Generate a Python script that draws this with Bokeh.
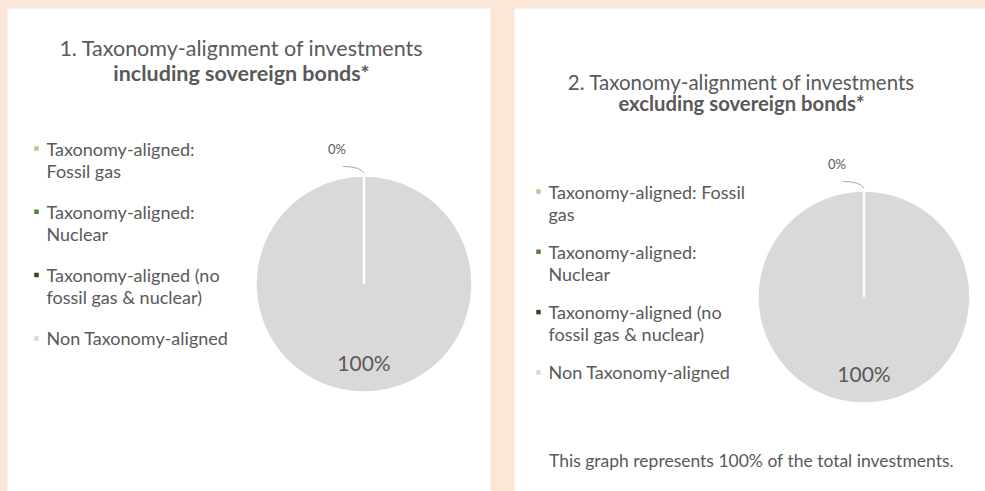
import math
from bokeh.plotting import figure
from bokeh.models import Range1d, GlobalInlineStyleSheet
from bokeh.core.properties import value
from bokeh.embed import file_html
from bokeh.resources import INLINE

# ---------------- data ----------------
categories = [
    "Taxonomy-aligned: Fossil gas",
    "Taxonomy-aligned: Nuclear",
    "Taxonomy-aligned (no fossil gas & nuclear)",
    "Non Taxonomy-aligned",
]
colors = ["#a9d18e", "#548235", "#2f4a1e", "#d9d9d9"]
values_incl = [0, 0, 0, 100]
values_excl = [0, 0, 0, 100]
legend_lines_1 = [
    ["Taxonomy-aligned:", "Fossil gas"],
    ["Taxonomy-aligned:", "Nuclear"],
    ["Taxonomy-aligned (no", "fossil gas & nuclear)"],
    ["Non Taxonomy-aligned"],
]
legend_lines_2 = [
    ["Taxonomy-aligned: Fossil", "gas"],
    ["Taxonomy-aligned:", "Nuclear"],
    ["Taxonomy-aligned (no", "fossil gas & nuclear)"],
    ["Non Taxonomy-aligned"],
]
title_1 = ["1. Taxonomy-alignment of investments", "including sovereign bonds*"]
title_2 = ["2. Taxonomy-alignment of investments", "excluding sovereign bonds*"]
footer = "This graph represents 100% of the total investments."

# ---------------- styling ----------------
FONT = "Lato"
TXT = "#595959"
PEACH = "#fae7d7"
W, H = 985, 491  # data y = H - page y

p = figure(width=W, height=H, output_backend="svg", toolbar_location=None,
           x_range=Range1d(0, W), y_range=Range1d(0, H),
           min_border=0, border_fill_color=PEACH, background_fill_color=PEACH,
           outline_line_color=None)
p.axis.visible = False
p.grid.visible = False
p.stylesheets = [GlobalInlineStyleSheet(css="html, body { background-color: #fae7d7; }")]

# panels
p.quad(left=[7, 514], right=[490, 985], bottom=[0, 0], top=[H - 8, H - 8],
       fill_color="white", line_color=None)


def Y(py):
    return H - py


def panel(vals, cx, cy, r, title, tcx, ty, tsizes, tgap, leg, lx, ly0, lstep, lsize):
    # title
    p.text(x=[tcx], y=[Y(ty)], text=[title[0]], text_font=value(FONT),
           text_font_size=tsizes[0], text_color=TXT, text_align="center",
           text_baseline="middle")
    p.text(x=[tcx], y=[Y(ty + tgap)], text=[title[1]], text_font=value(FONT),
           text_font_size=tsizes[1], text_font_style="bold", text_color=TXT,
           text_align="center", text_baseline="middle")
    # pie (clockwise from 12 o'clock)
    total = float(sum(vals))
    starts, ends = [], []
    cum = 0.0
    for v in vals:
        starts.append(math.pi / 2 - 2 * math.pi * cum / total)
        cum += v
        ends.append(math.pi / 2 - 2 * math.pi * cum / total)
    nz = [i for i, v in enumerate(vals) if v > 0]
    eps = 1e-4
    p.wedge(x=[cx] * len(nz), y=[Y(cy)] * len(nz), radius=r,
            start_angle=[starts[i] for i in nz],
            end_angle=[ends[i] + eps for i in nz], direction="clock",
            fill_color=[colors[i] for i in nz], line_color="white", line_width=2.5)
    # labels
    zero_done = False
    for v, a0, a1 in zip(vals, starts, ends):
        mid = (a0 + a1) / 2
        if v > 0:
            p.text(x=[cx + 0.72 * r * math.cos(mid)], y=[Y(cy) + 0.72 * r * math.sin(mid)],
                   text=[f"{v}%"], text_font=value(FONT), text_font_size="21px",
                   text_color=TXT, text_align="center", text_baseline="middle")
        elif not zero_done:
            zero_done = True
            tx, ty_ = cx + r * math.cos(mid), Y(cy) + r * math.sin(mid)
            p.quadratic(x0=[tx - 21], y0=[ty_ + 9], x1=[tx], y1=[ty_ + 2],
                        cx=[tx - 3], cy=[ty_ + 9], line_color="#a6a6a6", line_width=1)
            p.text(x=[tx - 27], y=[ty_ + 27], text=[f"{v}%"], text_font=value(FONT),
                   text_font_size="13px", text_color=TXT, text_align="center",
                   text_baseline="middle")
    # legend
    for i, lines in enumerate(leg):
        yy = ly0 + i * lstep
        p.scatter(x=[lx], y=[Y(yy)], marker="square", size=4.5,
                  fill_color=colors[i], line_color=None)
        for k, line in enumerate(lines):
            p.text(x=[lx + 10], y=[Y(yy + 22 * k)], text=[line], text_font=value(FONT),
                   text_font_size=lsize, text_color=TXT, text_align="left",
                   text_baseline="middle")


panel(values_incl, 363.5, 283.5, 108.5, title_1, 241, 47, ("21.5px", "21.5px"), 25,
      legend_lines_1, 36, 148, 63.3, "18px")
panel(values_excl, 863.5, 296.5, 106.5, title_2, 741, 81, ("20.5px", "20.3px"), 21,
      legend_lines_2, 538, 191, 60.3, "18px")

p.text(x=[751], y=[Y(460)], text=[footer], text_font=value(FONT),
       text_font_size="17.5px", text_color=TXT, text_align="center", text_baseline="middle")

open("out.html", "w").write(file_html(p, INLINE))
